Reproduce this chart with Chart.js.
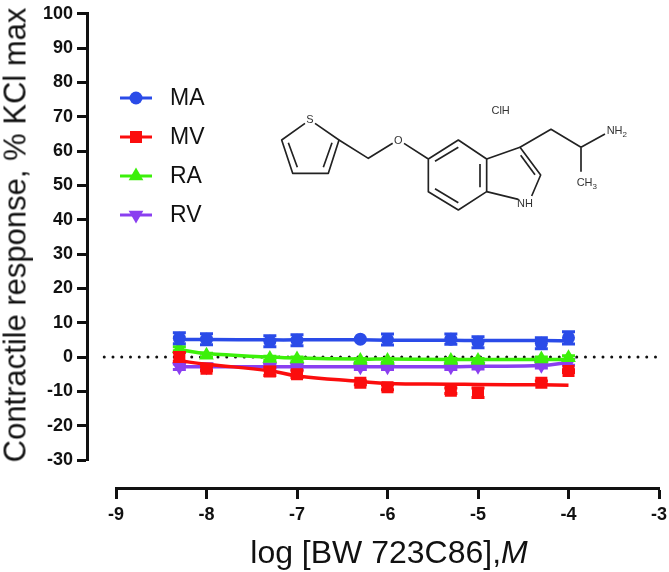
<!DOCTYPE html>
<html>
<head>
<meta charset="utf-8">
<script src="https://cdn.jsdelivr.net/npm/chart.js@4"></script>
<style>
  html, body { margin: 0; padding: 0; background: #fff; }
  #wrap { position: relative; width: 669px; height: 572px; overflow: hidden; }
  #wrap canvas { position: absolute; left: 0; top: 0; }
  #mol { position: absolute; left: 270px; top: 90px; }
  #mol text { font-family: "Liberation Sans", sans-serif; fill: #333; }
  .axis-title { position: absolute; font-family: "Liberation Sans", sans-serif; color: #111; white-space: nowrap; line-height: 1; }
  #xTitle { left: 389px; top: 552px; font-size: 32px; transform: translate(-50%, -50%); }
  #yTitle { left: 15px; top: 234.5px; font-size: 31px; transform: translate(-50%, -50%) rotate(-90deg); }
</style>
</head>
<body>
<div id="wrap">
  <canvas id="chart" width="669" height="572"></canvas>
  <div class="axis-title" id="xTitle">log [BW 723C86],<i>M</i></div>
  <div class="axis-title" id="yTitle">Contractile response, % KCl max</div>
  <!-- structure drawing, sits on top of the chart -->
  <svg id="mol" width="370" height="130" viewBox="0 0 1110 390">
    <g fill="none" stroke="#222" stroke-width="5" stroke-linejoin="round">
      <path d="M105 100L35 150L68 250L175 250L207 150L135 100"/>
      <path d="M55 158L82 232M160 232L186 158"/>
      <path d="M207 150L295 205L368 160M402 160L475 207L475 305L565 360L650 305L650 207L565 150L475 207"/>
      <path d="M495 214L565 172M630 222L630 292M495 296L565 338"/>
      <path d="M650 207L750 172L812 255L785 318M745 328L650 305"/>
      <path d="M752 196L795 254"/>
      <path d="M750 172L843 118L933 172L1005 132M933 172L933 245"/>
    </g>
    <g>
      <text x="120" y="100" text-anchor="middle" style="font-size:33px">S</text>
      <text x="385" y="162" text-anchor="middle" style="font-size:33px">O</text>
      <text x="765" y="350" text-anchor="middle" style="font-size:33px">NH</text>
      <text x="692" y="72" text-anchor="middle" style="font-size:33px">ClH</text>
      <text x="1010" y="133" style="font-size:33px">NH<tspan dy="8" style="font-size:24px">2</tspan></text>
      <text x="920" y="289" style="font-size:33px">CH<tspan dy="8" style="font-size:24px">3</tspan></text>
    </g>
  </svg>
</div>
<script>
  const logDose = [-8.3, -8, -7.3, -7, -6.3, -6, -5.3, -5, -4.3, -4];
  const seriesNames = ["MA", "MV", "RA", "RV"];
  const seriesColors = ["#2a4be8", "#fb0d0d", "#3cf00a", "#8a3ff0"];
  const seriesShapes = ["circle", "rect", "triangle", "triangle"];
  const seriesRotation = [0, 0, 0, 180];
  const seriesRadius = [6.5, 8.5, 8.5, 8.5];

  const maPoints = [5.5, 5.2, 4.6, 4.9, 5.2, 5.1, 5.2, 4.3, 4.0, 5.6];
  const mvPoints = [0.0, -3.4, -4.2, -5.0, -7.5, -8.8, -9.8, -10.4, -7.5, -4.1];
  const raPoints = [2.4, 0.5, -0.4, -0.6, -1.0, -1.0, -1.0, -1.0, -0.6, -0.2];
  const rvPoints = [-2.8, -2.8, -2.8, -2.8, -2.8, -2.8, -2.8, -2.7, -2.4, -1.6];

  const maFit = [5.1, 5.1, 5.0, 5.0, 5.0, 4.9, 4.9, 4.8, 4.8, 4.7];
  const mvFit = [-1.1, -2.1, -4.0, -5.5, -7.1, -7.7, -7.9, -8.0, -8.1, -8.2];
  const raFit = [2.2, 1.0, 0.0, -0.3, -0.6, -0.6, -0.7, -0.7, -0.7, -0.7];
  const rvFit = [-2.8, -2.8, -2.8, -2.8, -2.8, -2.8, -2.8, -2.7, -2.5, -1.6];

  const maErr = [1.6, 1.6, 1.6, 1.6, 0, 1.6, 1.5, 1.6, 1.6, 1.8];
  const mvErr = [1.3, 0.6, 1.2, 1.0, 0.6, 0.7, 0.8, 1.4, 0.5, 0.4];
  const raErr = [0.6, 0.6, 0.6, 0.6, 0.6, 0.6, 0.6, 0.6, 0.6, 0.6];
  const rvErr = [0.8, 0.8, 0.8, 0.8, 0.8, 0.8, 0.8, 0.8, 0.8, 0.8];

  const zeroLineX = [-9.13, -3];
  const zeroLineY = [0, 0];

  const allPoints = [maPoints, mvPoints, raPoints, rvPoints];
  const allFits = [maFit, mvFit, raFit, rvFit];
  const allErrs = [maErr, mvErr, raErr, rvErr];

  const datasets = [];
  seriesNames.forEach((name, i) => {
    datasets.push({
      label: name,
      data: logDose.map((x, j) => ({ x, y: allPoints[i][j] })),
      showLine: false,
      errs: allErrs[i],
      backgroundColor: seriesColors[i],
      borderColor: seriesColors[i],
      borderWidth: 0,
      pointStyle: seriesShapes[i],
      pointRotation: seriesRotation[i],
      pointRadius: seriesRadius[i]
    });
    datasets.push({
      label: name + " fit",
      data: logDose.map((x, j) => ({ x, y: allFits[i][j] })),
      showLine: true,
      borderColor: seriesColors[i],
      borderWidth: 3.5,
      tension: 0.4,
      pointRadius: 0
    });
  });
  datasets.push({
    label: "zero",
    data: zeroLineX.map((x, j) => ({ x, y: zeroLineY[j] })),
    showLine: true,
    clip: false,
    borderColor: "#111",
    borderWidth: 3,
    borderCapStyle: "round",
    borderDash: [0, 8.75],
    pointRadius: 0
  });

  // error bars, drawn with each marker set so the stacking stays right
  const errorBars = {
    id: "errorBars",
    beforeDatasetDraw(chart, args) {
      const ds = chart.data.datasets[args.index];
      if (!ds.errs) return;
      const { ctx, scales } = chart;
      ctx.save();
      ctx.strokeStyle = ds.borderColor;
      ctx.lineWidth = 3;
      ds.data.forEach((p, j) => {
        const e = ds.errs[j];
        if (!e) return;
        const px = scales.x.getPixelForValue(p.x);
        const top = scales.y.getPixelForValue(p.y + e);
        const bot = scales.y.getPixelForValue(p.y - e);
        ctx.beginPath();
        ctx.moveTo(px, top); ctx.lineTo(px, bot);
        ctx.moveTo(px - 6.5, top); ctx.lineTo(px + 6.5, top);
        ctx.moveTo(px - 6.5, bot); ctx.lineTo(px + 6.5, bot);
        ctx.stroke();
      });
      ctx.restore();
    }
  };

  // legend with line through marker like the original
  const lineLegend = {
    id: "lineLegend",
    afterDraw(chart) {
      const { ctx } = chart;
      const rows = [98, 137, 176, 215];
      ctx.save();
      seriesNames.forEach((name, i) => {
        const y = rows[i];
        ctx.strokeStyle = seriesColors[i];
        ctx.lineWidth = 3;
        ctx.beginPath();
        ctx.moveTo(120, y); ctx.lineTo(152, y);
        ctx.stroke();
        ctx.fillStyle = seriesColors[i];
        Chart.helpers.drawPoint(ctx, {
          pointStyle: seriesShapes[i],
          rotation: seriesRotation[i],
          radius: seriesRadius[i],
          borderWidth: 0
        }, 136, y);
        ctx.fillStyle = "#111";
        ctx.font = '23px "Liberation Sans", sans-serif';
        ctx.textBaseline = "middle";
        ctx.fillText(name, 170, y + 1);
      });
      ctx.restore();
    }
  };

  new Chart(document.getElementById("chart").getContext("2d"), {
    type: "scatter",
    data: { datasets },
    plugins: [errorBars, lineLegend],
    options: {
      responsive: false,
      animation: false,
      layout: { padding: { left: 116, right: 10, top: 10, bottom: 112 } },
      plugins: { legend: { display: false }, tooltip: { enabled: false } },
      scales: {
        x: {
          type: "linear",
          min: -9,
          max: -3,
          position: { y: -38.4 },
          // the -3 label may overhang, don't let it shrink the plot
          afterFit: scale => { scale.paddingRight = 0; },
          grid: { drawOnChartArea: false, drawTicks: true, tickLength: 9, tickWidth: 3, tickColor: "#111" },
          border: { display: true, color: "#111", width: 3 },
          ticks: {
            stepSize: 1,
            color: "#111",
            padding: 6,
            font: { family: "Liberation Sans", size: 18, weight: "bold" },
            callback: v => String(v)
          }
        },
        y: {
          type: "linear",
          min: -30,
          max: 100,
          position: { x: -9.31 },
          grid: { drawOnChartArea: false, drawTicks: true, tickLength: 9, tickWidth: 3, tickColor: "#111" },
          border: { display: true, color: "#111", width: 3 },
          ticks: {
            stepSize: 10,
            autoSkip: false,
            color: "#111",
            font: { family: "Liberation Sans", size: 18, weight: "bold" },
            // custom-positioned y axis ignores tick padding, push labels off the ticks
            callback: v => v + "\u00a0\u00a0\u00a0"
          }
        }
      }
    }
  });
</script>
</body>
</html>
